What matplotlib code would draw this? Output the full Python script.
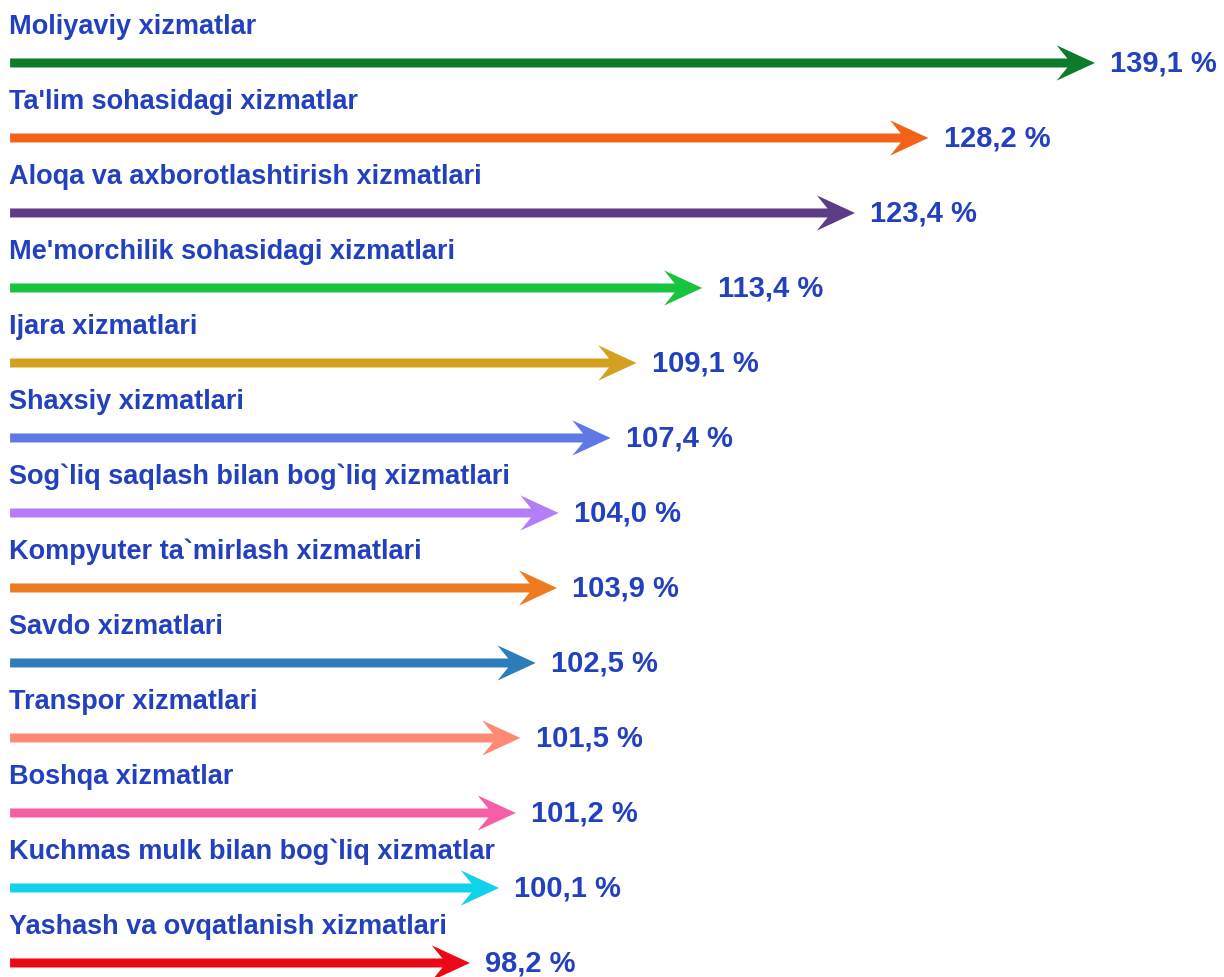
"""Growth of paid services by type, shown as horizontal arrows (percent)."""

import matplotlib

matplotlib.use("Agg")

import matplotlib.pyplot as plt  # noqa: E402
from matplotlib.patches import FancyArrow  # noqa: E402

# ---------------------------------------------------------------------------
# Data
# ---------------------------------------------------------------------------
CATEGORIES = [
    "Moliyaviy xizmatlar",
    "Ta'lim sohasidagi xizmatlar",
    "Aloqa va axborotlashtirish xizmatlari",
    "Me'morchilik sohasidagi xizmatlari",
    "Ijara xizmatlari",
    "Shaxsiy xizmatlari",
    "Sog`liq saqlash bilan bog`liq xizmatlari",
    "Kompyuter ta`mirlash xizmatlari",
    "Savdo xizmatlari",
    "Transpor xizmatlari",
    "Boshqa xizmatlar",
    "Kuchmas mulk bilan bog`liq xizmatlar",
    "Yashash va ovqatlanish xizmatlari",
]
VALUES = [139.1, 128.2, 123.4, 113.4, 109.1, 107.4, 104.0, 103.9, 102.5,
          101.5, 101.2, 100.1, 98.2]
ARROW_COLORS = [
    "#0E7A2C", "#F4621A", "#5E3B87", "#16C43F", "#D4A020", "#5F78E6",
    "#B57CF7", "#EF7B20", "#2D7DBA", "#FF8A73", "#F85EA6", "#10D2EA",
    "#EC0816",
]

# ---------------------------------------------------------------------------
# Layout / style
# ---------------------------------------------------------------------------
TEXT_COLOR = "#2340BE"
FONT = ["Liberation Sans", "DejaVu Sans"]
X_LIMITS = (67.44, 147.55)
ARROW_START = 68.1
Y_LIMITS = (12.187, -0.853)
SHAFT_WIDTH = 0.12
HEAD_WIDTH = 0.47
HEAD_LENGTH = 2.5


def format_value(value: float) -> str:
    return f"{value:.1f}".replace(".", ",") + " %"


def main() -> None:
    fig = plt.figure(figsize=(12.24, 9.78), dpi=100)
    ax = fig.add_axes([0, 0, 1, 1])
    ax.set_xlim(*X_LIMITS)
    ax.set_ylim(*Y_LIMITS)
    ax.axis("off")

    for row, (label, value, color) in enumerate(zip(CATEGORIES, VALUES, ARROW_COLORS)):
        ax.add_patch(
            FancyArrow(
                ARROW_START, row, value - ARROW_START, 0,
                width=SHAFT_WIDTH, head_width=HEAD_WIDTH, head_length=HEAD_LENGTH,
                length_includes_head=True, overhang=0.28,
                color=color, linewidth=0,
            )
        )
        ax.annotate(
            label, (ARROW_START, row), xytext=(-1, 26.5), textcoords="offset points",
            ha="left", va="center", fontsize=19.5, fontweight="bold",
            color=TEXT_COLOR, family=FONT,
        )
        ax.annotate(
            format_value(value), (value, row), xytext=(11, 0),
            textcoords="offset points", ha="left", va="center",
            fontsize=21, fontweight="bold", color=TEXT_COLOR, family=FONT,
        )

    fig.savefig("out.png", dpi=100)
    plt.close(fig)


if __name__ == "__main__":
    main()
